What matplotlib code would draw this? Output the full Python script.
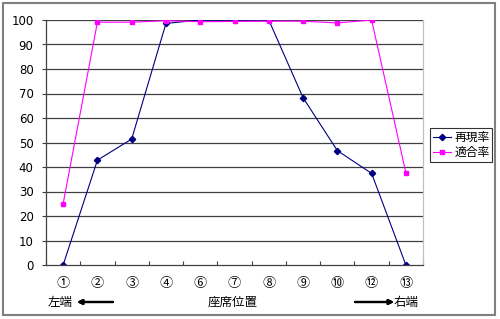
import matplotlib
matplotlib.use("Agg")
import matplotlib.pyplot as plt
from matplotlib.patches import Rectangle

plt.rcParams['font.family'] = ['Noto Sans CJK JP', 'DejaVu Sans']

categories = ['①', '②', '③', '④', '⑥', '⑦', '⑧', '⑨', '⑩', '⑫', '⑬']
recall = [0, 42.8, 51.4, 98.6, 100, 100, 100, 68.3, 46.7, 37.4, 0]
precision = [25, 99.1, 99.1, 99.7, 99.3, 99.4, 99.5, 99.5, 98.8, 100, 37.7]
series_names = ['再現率', '適合率']

W, H = 500, 319
fig = plt.figure(figsize=(W / 100, H / 100), dpi=100)
fig.patch.set_facecolor('white')

# outer border
fig.patches.append(Rectangle((3 / W, 1 - 315 / H), (495 - 3) / W, (315 - 3) / H,
                             transform=fig.transFigure, fill=False,
                             edgecolor='#808080', linewidth=1.5))

left, right, top, bottom = 46, 423, 20, 265
ax = fig.add_axes([left / W, 1 - bottom / H, (right - left) / W, (bottom - top) / H])

x = list(range(len(categories)))
l1, = ax.plot(x, recall, color='#000080', lw=0.8, marker='D', markersize=3.2,
              markerfacecolor='#000080', markeredgecolor='#000080', label=series_names[0])
l2, = ax.plot(x, precision, color='#FF00FF', lw=0.8, marker='s', markersize=3.5,
              markerfacecolor='#FF00FF', markeredgecolor='#FF00FF', label=series_names[1])

ax.set_xlim(-0.5, len(categories) - 0.5)
ax.set_ylim(0, 100)
ax.set_yticks(range(0, 101, 10))
ax.set_yticklabels([str(v) for v in range(0, 101, 10)], fontsize=8.5, family=['DejaVu Sans'])
ax.set_xticks([i - 0.5 for i in range(len(categories) + 1)])
ax.set_xticklabels([])
ax.set_xticks(x, minor=True)
ax.set_xticklabels(categories, minor=True, fontsize=9.5)
ax.tick_params(axis='x', which='major', length=3, color='#404040', direction='in')
ax.tick_params(axis='x', which='minor', length=0, pad=9)
ax.tick_params(axis='y', length=3, color='#404040', direction='out', pad=6)
for yv in range(10, 101, 10):
    ax.axhline(yv, color='#404040', lw=0.9, zorder=0)
ax.spines['left'].set_color('#404040')
ax.spines['bottom'].set_color('#404040')
ax.spines['top'].set_visible(False)
ax.spines['right'].set_color('#c0c0c0')
for s in ax.spines.values():
    s.set_linewidth(0.9)

leg = fig.legend(handles=[l1, l2], loc='upper left',
                 bbox_to_anchor=(430 / W, 1 - 128 / H), fontsize=8.5,
                 frameon=True, fancybox=False, edgecolor='black',
                 borderpad=0.25, handlelength=1.5, handletextpad=0.3,
                 labelspacing=0.15, borderaxespad=0)
leg.get_frame().set_linewidth(0.8)

def fx(px):
    return px / W

def fy(py):
    return 1 - py / H

fig.text(fx(48), fy(302), '左端', fontsize=9, va='center', ha='left')
fig.text(fx(233), fy(302), '座席位置', fontsize=9, va='center', ha='center')
fig.text(fx(419), fy(302), '右端', fontsize=9, va='center', ha='right')
fig.add_artist(plt.annotate('', xy=(fx(77), fy(302)), xytext=(fx(113), fy(302)),
                            xycoords='figure fraction',
                            arrowprops=dict(arrowstyle='-|>', color='black', lw=1.6,
                                            mutation_scale=7, shrinkA=0, shrinkB=0)))
fig.add_artist(plt.annotate('', xy=(fx(394), fy(302)), xytext=(fx(355), fy(302)),
                            xycoords='figure fraction',
                            arrowprops=dict(arrowstyle='-|>', color='black', lw=1.6,
                                            mutation_scale=7, shrinkA=0, shrinkB=0)))

fig.savefig('out.png', dpi=100, facecolor='white')
